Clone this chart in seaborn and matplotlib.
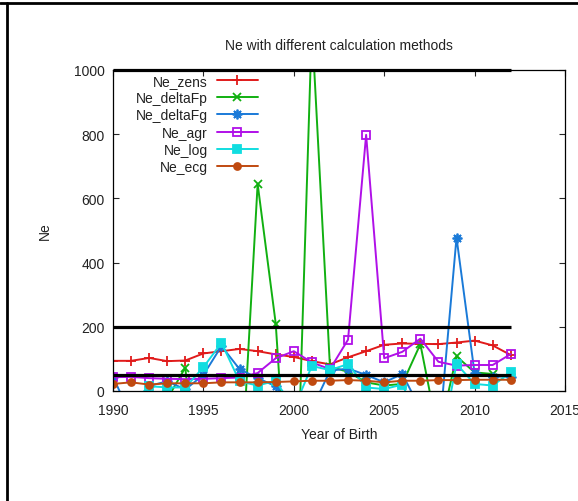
import matplotlib
matplotlib.use("Agg")
import matplotlib.pyplot as plt
from matplotlib.lines import Line2D
import seaborn as sns
import numpy as np
import pandas as pd

# ---------------- data ----------------
years = list(range(1990, 2013))
ne_zens = [94, 94, 103, 93, 95, 117, 124, 131, 124, 114, 106, 93, 83, 105, 124, 144, 148, 147, 146, 151, 157, 142, 112]
ne_deltaFp = [-150, -200, -120, -25, 73, -490, -400, -360, 645, 210, -650, 1140, 75, 60, 27, 17, 22, 146, -140, 108, 58, 53, 43]
ne_deltaFg = [45, -80, 16, 30, 5, 50, 140, 68, 40, 15, -60, -56, 63, 70, 50, 27, 53, -56, -160, 478, 55, 45, 45]
ne_agr = [43, 44, 40, 38, 37, 38, 40, 42, 56, 102, 124, 89, 68, 160, 798, 102, 122, 163, 91, 79, 81, 81, 115]
ne_log = [-60, -40, 15, 11, 11, 74, 150, 30, 17, 32, -55, 78, 65, 84, 11, 6, 20, -100, -200, 84, 22, 17, 58]
ne_ecg = [22, 27, 20, 24, 24, 24, 27, 27, 27, 28, 30, 32, 32, 34, 32, 27, 32, 32, 34, 34, 35, 35, 35]
thresholds = [1000, 200, 50]

series_names = ["Ne_zens", "Ne_deltaFp", "Ne_deltaFg", "Ne_agr", "Ne_log", "Ne_ecg"]
series_values = [ne_zens, ne_deltaFp, ne_deltaFg, ne_agr, ne_log, ne_ecg]
x_ticks = [1990, 1995, 2000, 2005, 2010, 2015]
y_ticks = [0, 200, 400, 600, 800, 1000]

# ---------------- styles ----------------
colors = ["#e01a1a", "#11b011", "#1a7ad8", "#b010e8", "#11dde0", "#c04a10"]
markers = ["+", "x", (8, 2, 0), "s", "s", "o"]
filled = [True, True, True, False, True, True]
msizes = [7, 6, 7, 6, 6, 5]

sns.set_style("ticks")
plt.rcParams["font.family"] = ["Liberation Sans", "DejaVu Sans"]
plt.rcParams["font.size"] = 10
text_color = "#222222"

fig = plt.figure(figsize=(5.78, 5.02), dpi=100)
W, H = 578, 502
left, right, top, bottom = 113, 565, 71, 392
ax = fig.add_axes([left / W, 1 - bottom / H, (right - left) / W, (bottom - top) / H])

df = pd.DataFrame({"year": years})
for name, vals in zip(series_names, series_values):
    df[name] = vals

for name, c, m, f, ms in zip(series_names, colors, markers, filled, msizes):
    kw = dict(marker=m, markersize=ms, markeredgewidth=1.3, markeredgecolor=c,
              markerfacecolor=(c if f else "none"))
    sns.lineplot(data=df, x="year", y=name, color=c, linewidth=1.4, ax=ax,
                 label=name, **kw)

ax.hlines(thresholds, years[0], years[-1], colors="black", linewidth=2.3,
          clip_on=False, zorder=5)

ax.set_xlim(1990, 2015)
ax.set_ylim(0, 1000)
ax.set_xticks(x_ticks)
ax.set_yticks(y_ticks)
ax.set_xticklabels([str(t) for t in x_ticks])
ax.set_yticklabels([str(t) for t in y_ticks])
ax.tick_params(direction="in", length=4, width=0.8, top=True, right=True,
               labelsize=10, labelcolor=text_color, pad=6)
ax.tick_params(axis="x", pad=9)
for s in ax.spines.values():
    s.set_color("black")
    s.set_linewidth(0.9)

ax.set_xlabel("Year of Birth", fontsize=10, color=text_color, labelpad=7)
ax.set_ylabel("Ne", fontsize=10, color=text_color, labelpad=16)
ax.set_title("Ne with different calculation methods", fontsize=10,
             color=text_color, pad=15)

leg = ax.legend(loc="upper left", bbox_to_anchor=(0.05, 0.989), frameon=False,
                markerfirst=False, handlelength=2.9, handletextpad=0.7,
                labelspacing=0.24, borderpad=0, borderaxespad=0, numpoints=1,
                fontsize=10)
for t in leg.get_texts():
    t.set_color(text_color)

# outer image frame
fig.add_artist(Line2D([0, 1], [1 - 4 / H, 1 - 4 / H], transform=fig.transFigure,
                      color="black", linewidth=2))
fig.add_artist(Line2D([7 / W, 7 / W], [0, 1 - 4 / H], transform=fig.transFigure,
                      color="black", linewidth=2))

fig.savefig("out.png", dpi=100)
